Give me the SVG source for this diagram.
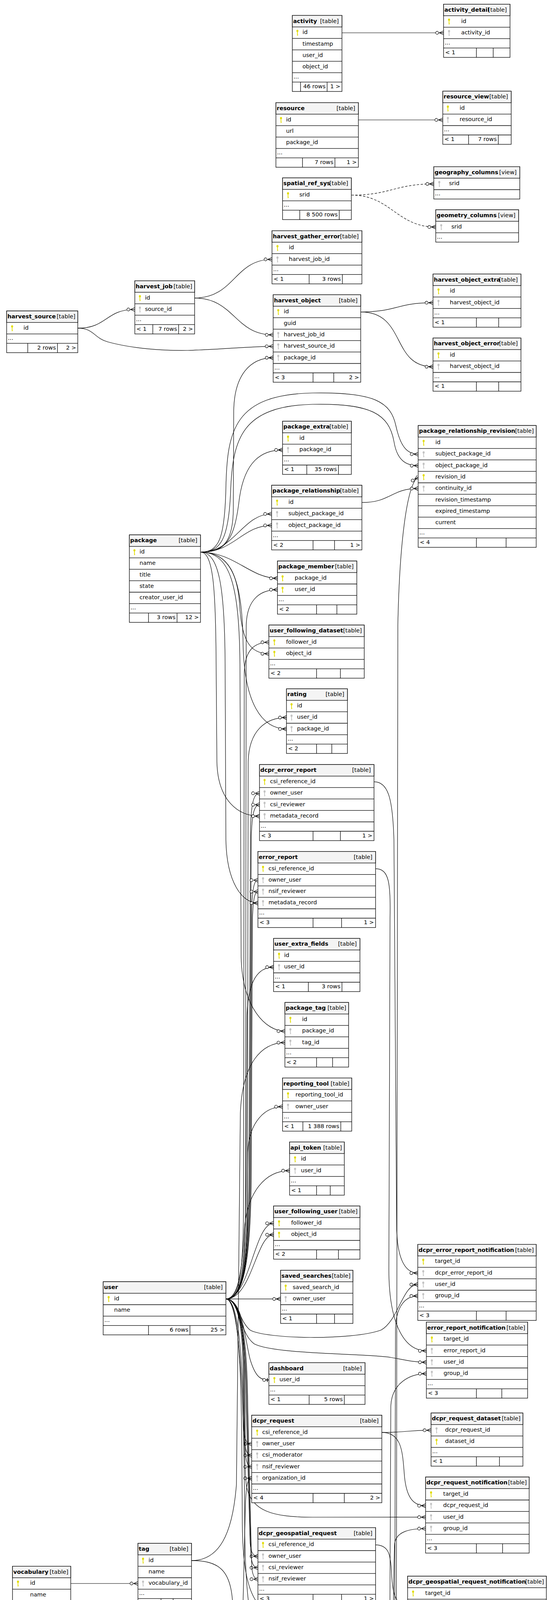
<svg xmlns="http://www.w3.org/2000/svg" width="1415" height="7236" viewBox="0 0 1415 7236">
<style>
text{font-family:"DejaVu Sans","Liberation Sans",sans-serif;font-size:14.5px;fill:#000}
.n{font-weight:bold}
.r{text-anchor:end}
.b{fill:#fff;stroke:#000;stroke-width:1.3}
.h{fill:#f4f4f4;stroke:#000;stroke-width:1.3}
.l{fill:none;stroke:#000;stroke-width:1.3}
.kp{fill:#e2dc00}
.kf{fill:#c2c2c2}
.e{fill:none;stroke:#000;stroke-width:1.2;marker-end:url(#cf)}
.d{stroke-dasharray:6 4}
.z{marker-end:url(#zo)}
</style>
<defs>
<g id="k"><ellipse cx="0" cy="-4.6" rx="2.6" ry="2.9"/><rect x="-0.9" y="-2.5" width="1.8" height="10.2"/><rect x="0.7" y="5.2" width="1.5" height="1.2"/></g>
<marker id="cf" markerUnits="userSpaceOnUse" viewBox="-26 -8 28 16" refX="0" refY="0" markerWidth="28" markerHeight="16" orient="auto">
<path d="M-11,0L0,-5M-11,0L0,5M-11,0H0" fill="none" stroke="#000" stroke-width="1.2"/>
<circle cx="-16.5" cy="0" r="3.8" fill="#fff" stroke="#000" stroke-width="1.2"/>
</marker>
<marker id="zo" markerUnits="userSpaceOnUse" viewBox="-26 -8 28 16" refX="0" refY="0" markerWidth="28" markerHeight="16" orient="auto">
<path d="M-4,-5V5M-8,0H0" fill="none" stroke="#000" stroke-width="1.8"/>
<circle cx="-12" cy="0" r="3.8" fill="#fff" stroke="#000" stroke-width="1.2"/>
</marker>
</defs>
<rect width="1415" height="7236" fill="#fff"/>
<g id="connectors">
<path class="e" d="M875,84 H1135"/>
<path class="e" d="M917,307 H1133"/>
<path class="e d" d="M899,499.5 C1000,499.5 1010,470.85 1110,470.85"/>
<path class="e d" d="M899,499.5 C1000,499.5 1015,581.15 1115,581.15"/>
<path class="e" d="M498,763 C600,763 600,664 696,664"/>
<path class="e" d="M199,840.15 C275,840 270,792.25 345,792.25"/>
<path class="e" d="M498,763 C600,763 600,857.25 699,857.25"/>
<path class="e" d="M199,840.15 C240,840 240,865 275,875 C340,893 420,898 480,897 C560,895 640,886.55 699,886.55"/>
<path class="e" d="M513,1413.5 C570,1413.5 597,1390 597,1300 L598,1050 C600,960 640,915.85 699,915.85"/>
<path class="e" d="M923,798.65 C1015,798.65 1015,774.95 1108,774.95"/>
<path class="e" d="M923,798.65 C1040,798.65 1000,938.85 1108,938.85"/>
<path class="e" d="M513,1413.5 C580,1413.5 600,1380 612,1280 C625,1180 670,1151.85 723,1151.85"/>
<path class="e" d="M513,1413.5 C600,1413.5 620,1315.75 695,1315.75"/>
<path class="e" d="M513,1413.5 C600,1413.5 620,1345.05 695,1345.05"/>
<path class="e" d="M513,1413.5 C560,1413.5 575,1380 578,1250 C581,1100 600,1010 800,1006 C960,1003 1000,1030 1013,1090 C1024,1140 1040,1162.75 1070,1162.75"/>
<path class="e" d="M513,1413.5 C565,1413.5 585,1380 590,1260 C595,1120 620,1040 800,1035 C950,1032 995,1060 1008,1130 C1016,1180 1040,1192.05 1070,1192.05"/>
<path class="e" d="M520,5905.15 C600,5905 588,5800 588,5650 C588,5520 630,5470 720,5468 C900,5465 975,5470 990,5440 C1005,5400 1012,5300 1013,5000 L1018,1600 C1022,1400 1040,1240 1070,1221.35"/>
<path class="e" d="M926,1286.45 C1000,1286.45 1000,1250.65 1070,1250.65"/>
<path class="e" d="M513,1413.5 C600,1413.5 640,1480.35 710,1480.35"/>
<path class="e" d="M578,3325.35 C620,3325 628,3250 628,3100 L630,1600 C632,1530 670,1509.65 710,1509.65"/>
<path class="e" d="M578,3325.35 C615,3325 622,3250 623,3100 L625,1720 C627,1665 650,1644.25 688,1644.25"/>
<path class="e" d="M513,1413.5 C590,1413.5 610,1480 614,1560 C620,1640 640,1673.55 688,1673.55"/>
<path class="e" d="M578,3325.35 C620,3325 633,3250 633,3100 L635,1950 C637,1870 680,1836.85 733,1836.85"/>
<path class="e" d="M513,1413.5 C600,1413.5 620,1500 622,1650 C625,1800 670,1866.15 733,1866.15"/>
<path class="e" d="M578,3325.35 C620,3325 636,3250 637,3000 L641,2120 C643,2060 648,2030.75 664,2030.75"/>
<path class="e" d="M578,3325.35 C620,3325 638,3250 639,3000 L643,2140 C645,2085 650,2060.05 664,2060.05"/>
<path class="e" d="M513,1413.5 C545,1413.5 552,1500 553,1700 L555,1950 C557,2050 610,2089.35 664,2089.35"/>
<path class="e" d="M578,3325.35 C620,3325 640,3250 641,3000 L644,2330 C646,2275 650,2253.25 660,2253.25"/>
<path class="e" d="M578,3325.35 C620,3325 642,3250 643,3000 L646,2350 C648,2300 652,2282.55 660,2282.55"/>
<path class="e" d="M513,1413.5 C560,1413.5 575,1500 576,1700 L578,2150 C580,2260 620,2311.85 660,2311.85"/>
<path class="e" d="M578,3325.35 C620,3325 628,3250 630,3000 L632,2600 C635,2510 660,2475.85 700,2475.85"/>
<path class="e" d="M513,1413.5 C590,1413.5 612,1500 614,1700 L617,2450 C620,2580 680,2639.75 729,2639.75"/>
<path class="e" d="M490,3995.05 C560,3995 595,3930 605,3800 L615,2850 C620,2720 670,2669.05 729,2669.05"/>
<path class="e" d="M578,3325.35 C620,3325 630,3250 632,3100 L634,2950 C637,2870 680,2833.05 723,2833.05"/>
<path class="e" d="M578,3325.35 C610,3325 620,3250 625,3150 C632,3050 680,2996.95 741,2996.95"/>
<path class="e" d="M578,3325.35 C640,3325 650,3131.55 700,3131.55"/>
<path class="e" d="M578,3325.35 C645,3325 655,3160.85 700,3160.85"/>
<path class="e" d="M578,3325.35 H718"/>
<path class="e" d="M957,2001.45 C995,2001 1005,2050 1008,2150 L1015,3150 C1018,3230 1040,3259.05 1069,3259.05"/>
<path class="e" d="M578,3325.35 C610,3325 610,3380 640,3405 C680,3428 900,3432 975,3405 C1020,3380 1030,3288.35 1069,3288.35"/>
<path class="e" d="M498,4749.55 C560,4749.55 572,4800 575,4900 C580,5050 600,5120 660,5130 C760,5143 900,5148 970,5135 C998,5125 1005,5080 1008,5000 L1012,3400 C1014,3340 1040,3317.65 1069,3317.65"/>
<path class="e" d="M961,2223.95 C995,2224 1000,2260 998,2350 L995,3250 C995,3380 1030,3458.05 1091,3458.05"/>
<path class="e" d="M578,3325.35 C615,3325 610,3410 650,3440 C700,3468 950,3465 1000,3475 C1040,3482 1060,3487.35 1091,3487.35"/>
<path class="e" d="M498,4749.55 C600,4749.55 700,4765 820,4766 C950,4768 985,4755 995,4720 L1000,3600 C1002,3540 1050,3516.65 1091,3516.65"/>
<path class="e z" d="M578,3325.35 C620,3325 625,3420 640,3480 C655,3530 670,3532.65 688,3532.65"/>
<path class="e" d="M578,3325.35 C610,3325 620,3400 622,3500 L624,3660 C626,3690 632,3696.45 644,3696.45"/>
<path class="e" d="M578,3325.35 C612,3325 622,3400 624,3500 L626,3690 C628,3718 634,3725.75 644,3725.75"/>
<path class="e" d="M578,3325.35 C614,3325 624,3400 626,3500 L628,3720 C630,3748 636,3755.05 644,3755.05"/>
<path class="e" d="M498,4749.55 C560,4749.55 600,4700 610,4600 L628,3850 C630,3800 634,3784.35 644,3784.35"/>
<path class="e" d="M977,3667.15 C1040,3667 1040,3661.45 1103,3661.45"/>
<path class="e" d="M977,3667.15 C1030,3667 1030,3720 1035,3780 C1040,3830 1055,3854.65 1089,3854.65"/>
<path class="e" d="M578,3325.35 C630,3325 620,3700 630,3800 C640,3870 700,3884 800,3884 L1089,3883.95"/>
<path class="e" d="M498,4749.55 C620,4749.55 700,4732 800,4730 C930,4728 985,4725 995,4690 C1005,4600 1005,4000 1010,3950 C1015,3920 1050,3913.25 1089,3913.25"/>
<path class="e" d="M578,3325.35 C610,3325 628,3400 630,3600 L640,3950 C642,3975 648,3984.15 660,3984.15"/>
<path class="e" d="M578,3325.35 C612,3325 630,3400 632,3600 L642,3980 C644,4005 650,4013.45 660,4013.45"/>
<path class="e" d="M578,3325.35 C614,3325 632,3400 634,3600 L644,4010 C646,4035 652,4042.75 660,4042.75"/>
<path class="e" d="M181,4053.75 H353"/>
<path class="e" d="M961,3954.85 C995,3955 1000,3980 1002,4030 C1005,4090 1015,4108.45 1043,4108.45"/>
<path class="e" d="M578,3325.35 C620,3325 618,3600 620,3900 C622,4080 650,4150 776,4152 C900,4155 980,4137.75 1043,4137.75"/>
<path class="e" d="M498,4749.55 C560,4749.55 575,4600 590,4450 C605,4350 640,4340 720,4338 C900,4335 980,4345 995,4300 C1005,4250 1012,4167.05 1043,4167.05"/>
<path class="e" d="M578,3325.35 C615,3325 625,3600 626,3900 C628,4150 650,4213.15 693,4213.15"/>
<path class="e" d="M498,4749.55 C570,4749.55 590,4650 595,4500 C600,4300 640,4242.45 693,4242.45"/>
<path class="e" d="M520,5905.15 C600,5905 605,5800 607,5600 L612,4600 C615,4480 650,4442.75 695,4442.75"/>
<path class="e" d="M490,3995.05 C560,3995 590,4020 595,4100 L592,4380 C595,4470 640,4501.35 695,4501.35"/>
<path class="e" d="M498,4749.55 C620,4749.55 680,4854.65 747,4854.65"/>
<path class="e" d="M498,4749.55 C600,4749.55 640,4900 660,4960 C680,5020 700,5047.95 732,5047.95"/>
<path class="e" d="M498,4749.55 C560,4749.55 575,4850 578,5000 C582,5180 640,5248.15 696,5248.15"/>
<path class="e" d="M520,5905.15 C580,5905 585,5700 585,5500 C585,5330 640,5277.45 696,5277.45"/>
<path class="e" d="M520,5905.15 C600,5905 615,5780 620,5680 C628,5590 660,5565.15 705,5565.15"/>
<path class="e" d="M520,5905.15 H711"/>
<path class="e" d="M520,5905.15 C580,5905 600,5980 605,6050 C612,6150 640,6186.15 687,6186.15"/>
<path class="e" d="M520,5905.15 C590,5905 605,6050 612,6250 C618,6420 650,6526.05 712,6526.05"/>
<path class="e" d="M520,5905.15 C590,5905 608,6100 612,6400 C615,6700 650,6808.15 719,6808.15"/>
<path class="e" d="M520,5905.15 C580,5905 592,6100 593,6400 L595,6900 C597,7010 640,7059.55 697,7059.55"/>
<path class="e" d="M500,7089.35 H697"/>
</g>

<g id="activity" transform="translate(748,39.5)">
<rect class="b" width="127" height="194.7"/><rect class="h" width="127" height="29.5"/>
<path class="l" d="M0,58.8H127M0,88.1H127M0,117.4H127M0,146.7H127M0,170.7H127M21,170.7V194.7M89,170.7V194.7"/>
<text class="n" x="2" y="19">activity</text><text class="r" x="119" y="19">[table]</text>
<use href="#k" class="kp" x="13" y="44.15"/><text x="26" y="47.8">id</text>
<text x="26" y="77.1">timestamp</text><text x="26" y="106.4">user_id</text><text x="26" y="135.7">object_id</text>
<text x="3" y="161.7">...</text><text class="r" x="85" y="186.7">46 rows</text><text class="r" x="123" y="186.7">1 &gt;</text>
</g>

<g id="activity_detail" transform="translate(1135,10.8)">
<rect class="b" width="170" height="136.1"/><rect class="h" width="170" height="29.5"/>
<path class="l" d="M0,58.8H170M0,88.1H170M0,112.1H170M84,112.1V136.1M127,112.1V136.1"/>
<text class="n" x="2" y="19">activity_detail</text><text class="r" x="162" y="19">[table]</text>
<use href="#k" class="kp" x="14" y="44.15"/><text x="45" y="47.8">id</text>
<use href="#k" class="kf" x="14" y="73.45"/><text x="45" y="77.1">activity_id</text>
<text x="3" y="103.1">...</text><text x="4" y="128.1">&lt; 1</text>
</g>

<g id="resource" transform="translate(706,262.8)">
<rect class="b" width="211" height="165.4"/><rect class="h" width="211" height="29.5"/>
<path class="l" d="M0,58.8H211M0,88.1H211M0,117.4H211M0,141.4H211M68,141.4V165.4M151,141.4V165.4"/>
<text class="n" x="2" y="19">resource</text><text class="r" x="203" y="19">[table]</text>
<use href="#k" class="kp" x="13" y="44.15"/><text x="26" y="47.8">id</text>
<text x="26" y="77.1">url</text><text x="26" y="106.4">package_id</text>
<text x="3" y="132.4">...</text><text class="r" x="147" y="157.4">7 rows</text><text class="r" x="207" y="157.4">1 &gt;</text>
</g>

<g id="resource_view" transform="translate(1133,233.4)">
<rect class="b" width="175" height="136.1"/><rect class="h" width="175" height="29.5"/>
<path class="l" d="M0,58.8H175M0,88.1H175M0,112.1H175M66,112.1V136.1M142,112.1V136.1"/>
<text class="n" x="2" y="19">resource_view</text><text class="r" x="167" y="19">[table]</text>
<use href="#k" class="kp" x="13" y="44.15"/><text x="43" y="47.8">id</text>
<use href="#k" class="kf" x="13" y="73.45"/><text x="43" y="77.1">resource_id</text>
<text x="3" y="103.1">...</text><text x="4" y="128.1">&lt; 1</text><text class="r" x="138" y="128.1">7 rows</text>
</g>

<g id="spatial_ref_sys" transform="translate(723,455.4)">
<rect class="b" width="176" height="106.8"/><rect class="h" width="176" height="29.5"/>
<path class="l" d="M0,58.8H176M0,82.8H176M44,82.8V106.8M145,82.8V106.8"/>
<text class="n" x="2" y="19">spatial_ref_sys</text><text class="r" x="168" y="19">[table]</text>
<use href="#k" class="kp" x="14" y="44.15"/><text x="43" y="47.8">srid</text>
<text x="3" y="73.8">...</text><text class="r" x="141" y="98.8">8 500 rows</text>
</g>

<g id="geography_columns" transform="translate(1110,426.7)">
<rect class="b" width="220" height="82.8"/><rect class="h" width="220" height="29.5"/>
<path class="l" d="M0,58.8H220"/>
<text class="n" x="2" y="19">geography_columns</text><text class="r" x="212" y="19">[view]</text>
<use href="#k" class="kf" x="14" y="44.15"/><text x="39" y="47.8">srid</text>
<text x="3" y="73.8">...</text>
</g>

<g id="geometry_columns" transform="translate(1115,537)">
<rect class="b" width="212" height="82.8"/><rect class="h" width="212" height="29.5"/>
<path class="l" d="M0,58.8H212"/>
<text class="n" x="2" y="19">geometry_columns</text><text class="r" x="204" y="19">[view]</text>
<use href="#k" class="kf" x="14" y="44.15"/><text x="40" y="47.8">srid</text>
<text x="3" y="73.8">...</text>
</g>

<g id="harvest_gather_error" transform="translate(696,590.6)">
<rect class="b" width="230" height="136.1"/><rect class="h" width="230" height="29.5"/>
<path class="l" d="M0,58.8H230M0,88.1H230M0,112.1H230M95,112.1V136.1M180,112.1V136.1"/>
<text class="n" x="2" y="19">harvest_gather_error</text><text class="r" x="222" y="19">[table]</text>
<use href="#k" class="kp" x="14" y="44.15"/><text x="43" y="47.8">id</text>
<use href="#k" class="kf" x="14" y="73.45"/><text x="43" y="77.1">harvest_job_id</text>
<text x="3" y="103.1">...</text><text x="4" y="128.1">&lt; 1</text><text class="r" x="176" y="128.1">3 rows</text>
</g>

<g id="harvest_job" transform="translate(345,718.8)">
<rect class="b" width="153" height="136.1"/><rect class="h" width="153" height="29.5"/>
<path class="l" d="M0,58.8H153M0,88.1H153M0,112.1H153M46,112.1V136.1M112,112.1V136.1"/>
<text class="n" x="2" y="19">harvest_job</text><text class="r" x="147" y="19">[table]</text>
<use href="#k" class="kp" x="13" y="44.15"/><text x="26" y="47.8">id</text>
<use href="#k" class="kf" x="13" y="73.45"/><text x="26" y="77.1">source_id</text>
<text x="3" y="103.1">...</text><text x="4" y="128.1">&lt; 1</text><text class="r" x="108" y="128.1">7 rows</text><text class="r" x="149" y="128.1">2 &gt;</text>
</g>

<g id="harvest_source" transform="translate(17,796)">
<rect class="b" width="182" height="106.8"/><rect class="h" width="182" height="29.5"/>
<path class="l" d="M0,58.8H182M0,82.8H182M54,82.8V106.8M130,82.8V106.8"/>
<text class="n" x="2" y="19">harvest_source</text><text class="r" x="176" y="19">[table]</text>
<use href="#k" class="kp" x="14" y="44.15"/><text x="43" y="47.8">id</text>
<text x="3" y="73.8">...</text><text class="r" x="126" y="98.8">2 rows</text><text class="r" x="178" y="98.8">2 &gt;</text>
</g>

<g id="harvest_object" transform="translate(699,754.5)">
<rect class="b" width="224" height="224"/><rect class="h" width="224" height="29.5"/>
<path class="l" d="M0,58.8H224M0,88.1H224M0,117.4H224M0,146.7H224M0,176H224M0,200H224M102,200V224M155,200V224"/>
<text class="n" x="2" y="19">harvest_object</text><text class="r" x="216" y="19">[table]</text>
<use href="#k" class="kp" x="13" y="44.15"/><text x="27" y="47.8">id</text>
<text x="27" y="77.1">guid</text>
<use href="#k" class="kf" x="13" y="102.75"/><text x="27" y="106.4">harvest_job_id</text>
<use href="#k" class="kf" x="13" y="132.05"/><text x="27" y="135.7">harvest_source_id</text>
<use href="#k" class="kf" x="13" y="161.35"/><text x="27" y="165">package_id</text>
<text x="3" y="191">...</text><text x="4" y="216">&lt; 3</text><text class="r" x="220" y="216">2 &gt;</text>
</g>

<g id="harvest_object_extra" transform="translate(1108,701.5)">
<rect class="b" width="225" height="136.1"/><rect class="h" width="225" height="29.5"/>
<path class="l" d="M0,58.8H225M0,88.1H225M0,112.1H225M111,112.1V136.1M168,112.1V136.1"/>
<text class="n" x="2" y="19">harvest_object_extra</text><text class="r" x="217" y="19">[table]</text>
<use href="#k" class="kp" x="14" y="44.15"/><text x="43" y="47.8">id</text>
<use href="#k" class="kf" x="14" y="73.45"/><text x="43" y="77.1">harvest_object_id</text>
<text x="3" y="103.1">...</text><text x="4" y="128.1">&lt; 1</text>
</g>

<g id="harvest_object_error" transform="translate(1108,865.4)">
<rect class="b" width="225" height="136.1"/><rect class="h" width="225" height="29.5"/>
<path class="l" d="M0,58.8H225M0,88.1H225M0,112.1H225M111,112.1V136.1M168,112.1V136.1"/>
<text class="n" x="2" y="19">harvest_object_error</text><text class="r" x="217" y="19">[table]</text>
<use href="#k" class="kp" x="14" y="44.15"/><text x="43" y="47.8">id</text>
<use href="#k" class="kf" x="14" y="73.45"/><text x="43" y="77.1">harvest_object_id</text>
<text x="3" y="103.1">...</text><text x="4" y="128.1">&lt; 1</text>
</g>

<g id="package_extra" transform="translate(723,1078.4)">
<rect class="b" width="176" height="136.1"/><rect class="h" width="176" height="29.5"/>
<path class="l" d="M0,58.8H176M0,88.1H176M0,112.1H176M62,112.1V136.1M143,112.1V136.1"/>
<text class="n" x="2" y="19">package_extra</text><text class="r" x="168" y="19">[table]</text>
<use href="#k" class="kp" x="14" y="44.15"/><text x="43" y="47.8">id</text>
<use href="#k" class="kf" x="14" y="73.45"/><text x="43" y="77.1">package_id</text>
<text x="3" y="103.1">...</text><text x="4" y="128.1">&lt; 1</text><text class="r" x="139" y="128.1">35 rows</text>
</g>

<g id="package_relationship" transform="translate(695,1242.3)">
<rect class="b" width="231" height="165.4"/><rect class="h" width="231" height="29.5"/>
<path class="l" d="M0,58.8H231M0,88.1H231M0,117.4H231M0,141.4H231M106,141.4V165.4M161,141.4V165.4"/>
<text class="n" x="2" y="19">package_relationship</text><text class="r" x="223" y="19">[table]</text>
<use href="#k" class="kp" x="14" y="44.15"/><text x="43" y="47.8">id</text>
<use href="#k" class="kf" x="14" y="73.45"/><text x="43" y="77.1">subject_package_id</text>
<use href="#k" class="kf" x="14" y="102.75"/><text x="43" y="106.4">object_package_id</text>
<text x="3" y="132.4">...</text><text x="4" y="157.4">&lt; 2</text><text class="r" x="227" y="157.4">1 &gt;</text>
</g>

<g id="package_relationship_revision" transform="translate(1070,1089.3)">
<rect class="b" width="302" height="311.9"/><rect class="h" width="302" height="29.5"/>
<path class="l" d="M0,58.8H302M0,88.1H302M0,117.4H302M0,146.7H302M0,176H302M0,205.3H302M0,234.6H302M0,263.9H302M0,287.9H302M149,287.9V311.9M225,287.9V311.9"/>
<text class="n" x="2" y="19">package_relationship_revision</text><text class="r" x="296" y="19">[table]</text>
<use href="#k" class="kp" x="14" y="44.15"/><text x="44" y="47.8">id</text>
<use href="#k" class="kf" x="14" y="73.45"/><text x="44" y="77.1">subject_package_id</text>
<use href="#k" class="kf" x="14" y="102.75"/><text x="44" y="106.4">object_package_id</text>
<use href="#k" class="kp" x="14" y="132.05"/><text x="44" y="135.7">revision_id</text>
<use href="#k" class="kf" x="14" y="161.35"/><text x="44" y="165">continuity_id</text>
<text x="44" y="194.3">revision_timestamp</text><text x="44" y="223.6">expired_timestamp</text><text x="44" y="252.9">current</text>
<text x="3" y="278.9">...</text><text x="4" y="303.9">&lt; 4</text>
</g>

<g id="package" transform="translate(331,1369.3)">
<rect class="b" width="182" height="224"/><rect class="h" width="182" height="29.5"/>
<path class="l" d="M0,58.8H182M0,88.1H182M0,117.4H182M0,146.7H182M0,176H182M0,200H182M49,200V224M122,200V224"/>
<text class="n" x="2" y="19">package</text><text class="r" x="174" y="19">[table]</text>
<use href="#k" class="kp" x="13" y="44.15"/><text x="26" y="47.8">id</text>
<text x="26" y="77.1">name</text><text x="26" y="106.4">title</text><text x="26" y="135.7">state</text><text x="26" y="165">creator_user_id</text>
<text x="3" y="191">...</text><text class="r" x="118" y="216">3 rows</text><text class="r" x="178" y="216">12 &gt;</text>
</g>

<g id="package_member" transform="translate(710,1436.2)">
<rect class="b" width="203" height="136.1"/><rect class="h" width="203" height="29.5"/>
<path class="l" d="M0,58.8H203M0,88.1H203M0,112.1H203M100,112.1V136.1M152,112.1V136.1"/>
<text class="n" x="2" y="19">package_member</text><text class="r" x="195" y="19">[table]</text>
<use href="#k" class="kp" x="13" y="44.15"/><text x="44" y="47.8">package_id</text>
<use href="#k" class="kp" x="13" y="73.45"/><text x="44" y="77.1">user_id</text>
<text x="3" y="103.1">...</text><text x="4" y="128.1">&lt; 2</text>
</g>

<g id="user_following_dataset" transform="translate(688,1600.1)">
<rect class="b" width="244" height="136.1"/><rect class="h" width="244" height="29.5"/>
<path class="l" d="M0,58.8H244M0,88.1H244M0,112.1H244M122,112.1V136.1M183,112.1V136.1"/>
<text class="n" x="2" y="19">user_following_dataset</text><text class="r" x="238" y="19">[table]</text>
<use href="#k" class="kp" x="14" y="44.15"/><text x="44" y="47.8">follower_id</text>
<use href="#k" class="kp" x="14" y="73.45"/><text x="44" y="77.1">object_id</text>
<text x="3" y="103.1">...</text><text x="4" y="128.1">&lt; 2</text>
</g>

<g id="rating" transform="translate(733,1763.4)">
<rect class="b" width="156" height="165.4"/><rect class="h" width="156" height="29.5"/>
<path class="l" d="M0,58.8H156M0,88.1H156M0,117.4H156M0,141.4H156M77,141.4V165.4M116,141.4V165.4"/>
<text class="n" x="2" y="19">rating</text><text class="r" x="148" y="19">[table]</text>
<use href="#k" class="kp" x="13" y="44.15"/><text x="27" y="47.8">id</text>
<use href="#k" class="kf" x="13" y="73.45"/><text x="27" y="77.1">user_id</text>
<use href="#k" class="kf" x="13" y="102.75"/><text x="27" y="106.4">package_id</text>
<text x="3" y="132.4">...</text><text x="4" y="157.4">&lt; 2</text>
</g>

<g id="dcpr_error_report" transform="translate(664,1957.3)">
<rect class="b" width="293" height="194.7"/><rect class="h" width="293" height="29.5"/>
<path class="l" d="M0,58.8H293M0,88.1H293M0,117.4H293M0,146.7H293M0,170.7H293M137,170.7V194.7M207,170.7V194.7"/>
<text class="n" x="2" y="19">dcpr_error_report</text><text class="r" x="285" y="19">[table]</text>
<use href="#k" class="kp" x="13" y="44.15"/><text x="27" y="47.8">csi_reference_id</text>
<use href="#k" class="kf" x="13" y="73.45"/><text x="27" y="77.1">owner_user</text>
<use href="#k" class="kf" x="13" y="102.75"/><text x="27" y="106.4">csi_reviewer</text>
<use href="#k" class="kf" x="13" y="132.05"/><text x="27" y="135.7">metadata_record</text>
<text x="3" y="161.7">...</text><text x="4" y="186.7">&lt; 3</text><text class="r" x="289" y="186.7">1 &gt;</text>
</g>

<g id="error_report" transform="translate(660,2179.8)">
<rect class="b" width="301" height="194.7"/><rect class="h" width="301" height="29.5"/>
<path class="l" d="M0,58.8H301M0,88.1H301M0,117.4H301M0,146.7H301M0,170.7H301M141,170.7V194.7M214,170.7V194.7"/>
<text class="n" x="2" y="19">error_report</text><text class="r" x="293" y="19">[table]</text>
<use href="#k" class="kp" x="13" y="44.15"/><text x="27" y="47.8">csi_reference_id</text>
<use href="#k" class="kf" x="13" y="73.45"/><text x="27" y="77.1">owner_user</text>
<use href="#k" class="kf" x="13" y="102.75"/><text x="27" y="106.4">nsif_reviewer</text>
<use href="#k" class="kf" x="13" y="132.05"/><text x="27" y="135.7">metadata_record</text>
<text x="3" y="161.7">...</text><text x="4" y="186.7">&lt; 3</text><text class="r" x="297" y="186.7">1 &gt;</text>
</g>

<g id="user_extra_fields" transform="translate(700,2402.4)">
<rect class="b" width="221" height="136.1"/><rect class="h" width="221" height="29.5"/>
<path class="l" d="M0,58.8H221M0,88.1H221M0,112.1H221M89,112.1V136.1M175,112.1V136.1"/>
<text class="n" x="2" y="19">user_extra_fields</text><text class="r" x="213" y="19">[table]</text>
<use href="#k" class="kp" x="14" y="44.15"/><text x="27" y="47.8">id</text>
<use href="#k" class="kf" x="14" y="73.45"/><text x="27" y="77.1">user_id</text>
<text x="3" y="103.1">...</text><text x="4" y="128.1">&lt; 1</text><text class="r" x="171" y="128.1">3 rows</text>
</g>

<g id="package_tag" transform="translate(729,2566.3)">
<rect class="b" width="163" height="165.4"/><rect class="h" width="163" height="29.5"/>
<path class="l" d="M0,58.8H163M0,88.1H163M0,117.4H163M0,141.4H163M81,141.4V165.4M122,141.4V165.4"/>
<text class="n" x="2" y="19">package_tag</text><text class="r" x="157" y="19">[table]</text>
<use href="#k" class="kp" x="14" y="44.15"/><text x="44" y="47.8">id</text>
<use href="#k" class="kf" x="14" y="73.45"/><text x="44" y="77.1">package_id</text>
<use href="#k" class="kf" x="14" y="102.75"/><text x="44" y="106.4">tag_id</text>
<text x="3" y="132.4">...</text><text x="4" y="157.4">&lt; 2</text>
</g>

<g id="reporting_tool" transform="translate(723,2759.6)">
<rect class="b" width="177" height="136.1"/><rect class="h" width="177" height="29.5"/>
<path class="l" d="M0,58.8H177M0,88.1H177M0,112.1H177M52,112.1V136.1M149,112.1V136.1"/>
<text class="n" x="2" y="19">reporting_tool</text><text class="r" x="171" y="19">[table]</text>
<use href="#k" class="kp" x="14" y="44.15"/><text x="33" y="47.8">reporting_tool_id</text>
<use href="#k" class="kf" x="14" y="73.45"/><text x="33" y="77.1">owner_user</text>
<text x="3" y="103.1">...</text><text x="4" y="128.1">&lt; 1</text><text class="r" x="145" y="128.1">1 388 rows</text>
</g>

<g id="api_token" transform="translate(741,2923.5)">
<rect class="b" width="140" height="136.1"/><rect class="h" width="140" height="29.5"/>
<path class="l" d="M0,58.8H140M0,88.1H140M0,112.1H140M69,112.1V136.1M104,112.1V136.1"/>
<text class="n" x="2" y="19">api_token</text><text class="r" x="134" y="19">[table]</text>
<use href="#k" class="kp" x="14" y="44.15"/><text x="29" y="47.8">id</text>
<use href="#k" class="kf" x="14" y="73.45"/><text x="29" y="77.1">user_id</text>
<text x="3" y="103.1">...</text><text x="4" y="128.1">&lt; 1</text>
</g>

<g id="user_following_user" transform="translate(700,3087.4)">
<rect class="b" width="221" height="136.1"/><rect class="h" width="221" height="29.5"/>
<path class="l" d="M0,58.8H221M0,88.1H221M0,112.1H221M110,112.1V136.1M166,112.1V136.1"/>
<text class="n" x="2" y="19">user_following_user</text><text class="r" x="215" y="19">[table]</text>
<use href="#k" class="kp" x="14" y="44.15"/><text x="45" y="47.8">follower_id</text>
<use href="#k" class="kp" x="14" y="73.45"/><text x="45" y="77.1">object_id</text>
<text x="3" y="103.1">...</text><text x="4" y="128.1">&lt; 2</text>
</g>

<g id="saved_searches" transform="translate(718,3251.9)">
<rect class="b" width="185" height="136.1"/><rect class="h" width="185" height="29.5"/>
<path class="l" d="M0,58.8H185M0,88.1H185M0,112.1H185M92,112.1V136.1M138,112.1V136.1"/>
<text class="n" x="2" y="19">saved_searches</text><text class="r" x="179" y="19">[table]</text>
<use href="#k" class="kp" x="13" y="44.15"/><text x="31" y="47.8">saved_search_id</text>
<use href="#k" class="kf" x="13" y="73.45"/><text x="31" y="77.1">owner_user</text>
<text x="3" y="103.1">...</text><text x="4" y="128.1">&lt; 1</text>
</g>

<g id="user" transform="translate(264,3281.2)">
<rect class="b" width="314" height="136.1"/><rect class="h" width="314" height="29.5"/>
<path class="l" d="M0,58.8H314M0,88.1H314M0,112.1H314M116,112.1V136.1M222,112.1V136.1"/>
<text class="n" x="2" y="19">user</text><text class="r" x="306" y="19">[table]</text>
<use href="#k" class="kp" x="14" y="44.15"/><text x="28" y="47.8">id</text>
<text x="28" y="77.1">name</text>
<text x="3" y="103.1">...</text><text class="r" x="218" y="128.1">6 rows</text><text class="r" x="310" y="128.1">25 &gt;</text>
</g>

<g id="dcpr_error_report_notification" transform="translate(1069,3185.6)">
<rect class="b" width="303" height="194.7"/><rect class="h" width="303" height="29.5"/>
<path class="l" d="M0,58.8H303M0,88.1H303M0,117.4H303M0,146.7H303M0,170.7H303M150,170.7V194.7M226,170.7V194.7"/>
<text class="n" x="2" y="19">dcpr_error_report_notification</text><text class="r" x="297" y="19">[table]</text>
<use href="#k" class="kp" x="14" y="44.15"/><text x="44" y="47.8">target_id</text>
<use href="#k" class="kf" x="14" y="73.45"/><text x="44" y="77.1">dcpr_error_report_id</text>
<use href="#k" class="kf" x="14" y="102.75"/><text x="44" y="106.4">user_id</text>
<use href="#k" class="kf" x="14" y="132.05"/><text x="44" y="135.7">group_id</text>
<text x="3" y="161.7">...</text><text x="4" y="186.7">&lt; 3</text>
</g>

<g id="error_report_notification" transform="translate(1091,3384.6)">
<rect class="b" width="259" height="194.7"/><rect class="h" width="259" height="29.5"/>
<path class="l" d="M0,58.8H259M0,88.1H259M0,117.4H259M0,146.7H259M0,170.7H259M128,170.7V194.7M193,170.7V194.7"/>
<text class="n" x="2" y="19">error_report_notification</text><text class="r" x="253" y="19">[table]</text>
<use href="#k" class="kp" x="14" y="44.15"/><text x="44" y="47.8">target_id</text>
<use href="#k" class="kf" x="14" y="73.45"/><text x="44" y="77.1">error_report_id</text>
<use href="#k" class="kf" x="14" y="102.75"/><text x="44" y="106.4">user_id</text>
<use href="#k" class="kf" x="14" y="132.05"/><text x="44" y="135.7">group_id</text>
<text x="3" y="161.7">...</text><text x="4" y="186.7">&lt; 3</text>
</g>

<g id="dashboard" transform="translate(688,3488.5)">
<rect class="b" width="246" height="106.8"/><rect class="h" width="246" height="29.5"/>
<path class="l" d="M0,58.8H246M0,82.8H246M103,82.8V106.8M193,82.8V106.8"/>
<text class="n" x="2" y="19">dashboard</text><text class="r" x="238" y="19">[table]</text>
<use href="#k" class="kp" x="14" y="44.15"/><text x="27" y="47.8">user_id</text>
<text x="3" y="73.8">...</text><text x="4" y="98.8">&lt; 1</text><text class="r" x="189" y="98.8">5 rows</text>
</g>

<g id="dcpr_request" transform="translate(644,3623)">
<rect class="b" width="333" height="224"/><rect class="h" width="333" height="29.5"/>
<path class="l" d="M0,58.8H333M0,88.1H333M0,117.4H333M0,146.7H333M0,176H333M0,200H333M157,200V224M237,200V224"/>
<text class="n" x="2" y="19">dcpr_request</text><text class="r" x="325" y="19">[table]</text>
<use href="#k" class="kp" x="14" y="44.15"/><text x="27" y="47.8">csi_reference_id</text>
<use href="#k" class="kf" x="14" y="73.45"/><text x="27" y="77.1">owner_user</text>
<use href="#k" class="kf" x="14" y="102.75"/><text x="27" y="106.4">csi_moderator</text>
<use href="#k" class="kf" x="14" y="132.05"/><text x="27" y="135.7">nsif_reviewer</text>
<use href="#k" class="kf" x="14" y="161.35"/><text x="27" y="165">organization_id</text>
<text x="3" y="191">...</text><text x="4" y="216">&lt; 4</text><text class="r" x="329" y="216">2 &gt;</text>
</g>

<g id="dcpr_request_dataset" transform="translate(1103,3617.3)">
<rect class="b" width="235" height="136.1"/><rect class="h" width="235" height="29.5"/>
<path class="l" d="M0,58.8H235M0,88.1H235M0,112.1H235M116,112.1V136.1M175,112.1V136.1"/>
<text class="n" x="2" y="19">dcpr_request_dataset</text><text class="r" x="229" y="19">[table]</text>
<use href="#k" class="kf" x="14" y="44.15"/><text x="36" y="47.8">dcpr_request_id</text>
<use href="#k" class="kp" x="14" y="73.45"/><text x="36" y="77.1">dataset_id</text>
<text x="3" y="103.1">...</text><text x="4" y="128.1">&lt; 1</text>
</g>

<g id="dcpr_request_notification" transform="translate(1089,3781.2)">
<rect class="b" width="265" height="194.7"/><rect class="h" width="265" height="29.5"/>
<path class="l" d="M0,58.8H265M0,88.1H265M0,117.4H265M0,146.7H265M0,170.7H265M130,170.7V194.7M197,170.7V194.7"/>
<text class="n" x="2" y="19">dcpr_request_notification</text><text class="r" x="259" y="19">[table]</text>
<use href="#k" class="kp" x="14" y="44.15"/><text x="45" y="47.8">target_id</text>
<use href="#k" class="kf" x="14" y="73.45"/><text x="45" y="77.1">dcpr_request_id</text>
<use href="#k" class="kf" x="14" y="102.75"/><text x="45" y="106.4">user_id</text>
<use href="#k" class="kf" x="14" y="132.05"/><text x="45" y="135.7">group_id</text>
<text x="3" y="161.7">...</text><text x="4" y="186.7">&lt; 3</text>
</g>

<g id="dcpr_geospatial_request" transform="translate(660,3910.7)">
<rect class="b" width="301" height="194.7"/><rect class="h" width="301" height="29.5"/>
<path class="l" d="M0,58.8H301M0,88.1H301M0,117.4H301M0,146.7H301M0,170.7H301M141,170.7V194.7M214,170.7V194.7"/>
<text class="n" x="2" y="19">dcpr_geospatial_request</text><text class="r" x="293" y="19">[table]</text>
<use href="#k" class="kp" x="13" y="44.15"/><text x="27" y="47.8">csi_reference_id</text>
<use href="#k" class="kf" x="13" y="73.45"/><text x="27" y="77.1">owner_user</text>
<use href="#k" class="kf" x="13" y="102.75"/><text x="27" y="106.4">csi_reviewer</text>
<use href="#k" class="kf" x="13" y="132.05"/><text x="27" y="135.7">nsif_reviewer</text>
<text x="3" y="161.7">...</text><text x="4" y="186.7">&lt; 3</text><text class="r" x="297" y="186.7">1 &gt;</text>
</g>

<g id="tag" transform="translate(353,3950.9)">
<rect class="b" width="137" height="165.4"/><rect class="h" width="137" height="29.5"/>
<path class="l" d="M0,58.8H137M0,88.1H137M0,117.4H137M0,141.4H137M59,141.4V165.4M90,141.4V165.4"/>
<text class="n" x="2" y="19">tag</text><text class="r" x="129" y="19">[table]</text>
<use href="#k" class="kp" x="13" y="44.15"/><text x="27" y="47.8">id</text>
<text x="27" y="77.1">name</text>
<use href="#k" class="kf" x="13" y="102.75"/><text x="27" y="106.4">vocabulary_id</text>
<text x="3" y="132.4">...</text><text x="4" y="157.4">&lt; 1</text><text class="r" x="133" y="157.4">2 &gt;</text>
</g>

<g id="vocabulary" transform="translate(32,4009.6)">
<rect class="b" width="149" height="136.1"/><rect class="h" width="149" height="29.5"/>
<path class="l" d="M0,58.8H149M0,88.1H149M0,112.1H149M58,112.1V136.1M95,112.1V136.1"/>
<text class="n" x="2" y="19">vocabulary</text><text class="r" x="143" y="19">[table]</text>
<use href="#k" class="kp" x="14" y="44.15"/><text x="45" y="47.8">id</text>
<text x="45" y="77.1">name</text>
<text x="3" y="103.1">...</text><text class="r" x="145" y="128.1">1 &gt;</text>
</g>

<g id="dcpr_geospatial_request_notification" transform="translate(1043,4035)">
<rect class="b" width="355" height="194.7"/><rect class="h" width="355" height="29.5"/>
<path class="l" d="M0,58.8H355M0,88.1H355M0,117.4H355M0,146.7H355M0,170.7H355M176,170.7V194.7M266,170.7V194.7"/>
<text class="n" x="2" y="19">dcpr_geospatial_request_notification</text><text class="r" x="349" y="19">[table]</text>
<use href="#k" class="kp" x="14" y="44.15"/><text x="45" y="47.8">target_id</text>
<use href="#k" class="kf" x="14" y="73.45"/><text x="45" y="77.1">dcpr_geospatial_request_id</text>
<use href="#k" class="kf" x="14" y="102.75"/><text x="45" y="106.4">user_id</text>
<use href="#k" class="kf" x="14" y="132.05"/><text x="45" y="135.7">group_id</text>
<text x="3" y="161.7">...</text><text x="4" y="186.7">&lt; 3</text>
</g>

<g id="user_following_group" transform="translate(693,4169)">
<rect class="b" width="234" height="136.1"/><rect class="h" width="234" height="29.5"/>
<path class="l" d="M0,58.8H234M0,88.1H234M0,112.1H234M117,112.1V136.1M175,112.1V136.1"/>
<text class="n" x="2" y="19">user_following_group</text><text class="r" x="228" y="19">[table]</text>
<use href="#k" class="kp" x="14" y="44.15"/><text x="44" y="47.8">follower_id</text>
<use href="#k" class="kp" x="14" y="73.45"/><text x="44" y="77.1">object_id</text>
<text x="3" y="103.1">...</text><text x="4" y="128.1">&lt; 2</text>
</g>

<g id="package_tag_revision" transform="translate(695,4369.3)">
<rect class="b" width="232" height="311.9"/><rect class="h" width="232" height="29.5"/>
<path class="l" d="M0,58.8H232M0,88.1H232M0,117.4H232M0,146.7H232M0,176H232M0,205.3H232M0,234.6H232M0,263.9H232M0,287.9H232M115,287.9V311.9M173,287.9V311.9"/>
<text class="n" x="2" y="19">package_tag_revision</text><text class="r" x="226" y="19">[table]</text>
<use href="#k" class="kp" x="14" y="44.15"/><text x="44" y="47.8">id</text>
<use href="#k" class="kp" x="14" y="73.45"/><text x="44" y="77.1">revision_id</text>
<text x="44" y="106.4">package_id</text>
<use href="#k" class="kf" x="14" y="132.05"/><text x="44" y="135.7">tag_id</text>
<text x="44" y="165">continuity_id</text><text x="44" y="194.3">revision_timestamp</text><text x="44" y="223.6">expired_timestamp</text><text x="44" y="252.9">current</text>
<text x="3" y="278.9">...</text><text x="4" y="303.9">&lt; 2</text>
</g>

<g id="group" transform="translate(345,4705.4)">
<rect class="b" width="153" height="136.1"/><rect class="h" width="153" height="29.5"/>
<path class="l" d="M0,58.8H153M0,88.1H153M0,112.1H153M41,112.1V136.1M109,112.1V136.1"/>
<text class="n" x="2" y="19">group</text><text class="r" x="145" y="19">[table]</text>
<use href="#k" class="kp" x="14" y="44.15"/><text x="27" y="47.8">id</text>
<text x="27" y="77.1">name</text>
<text x="3" y="103.1">...</text><text class="r" x="105" y="128.1">2 rows</text><text class="r" x="149" y="128.1">9 &gt;</text>
</g>

<g id="member" transform="translate(747,4781.2)">
<rect class="b" width="128" height="165.4"/><rect class="h" width="128" height="29.5"/>
<path class="l" d="M0,58.8H128M0,88.1H128M0,117.4H128M0,141.4H128M38,141.4V165.4M107,141.4V165.4"/>
<text class="n" x="2" y="19">member</text><text class="r" x="122" y="19">[table]</text>
<use href="#k" class="kp" x="14" y="44.15"/><text x="32" y="47.8">id</text>
<use href="#k" class="kf" x="14" y="73.45"/><text x="32" y="77.1">group_id</text>
<text x="32" y="106.4">table_id</text>
<text x="3" y="132.4">...</text><text x="4" y="157.4">&lt; 1</text><text class="r" x="103" y="157.4">10 rows</text>
</g>

<g id="group_extra" transform="translate(732,4974.5)">
<rect class="b" width="158" height="136.1"/><rect class="h" width="158" height="29.5"/>
<path class="l" d="M0,58.8H158M0,88.1H158M0,112.1H158M78,112.1V136.1M117,112.1V136.1"/>
<text class="n" x="2" y="19">group_extra</text><text class="r" x="152" y="19">[table]</text>
<use href="#k" class="kp" x="14" y="44.15"/><text x="44" y="47.8">id</text>
<use href="#k" class="kf" x="14" y="73.45"/><text x="44" y="77.1">group_id</text>
<text x="3" y="103.1">...</text><text x="4" y="128.1">&lt; 1</text>
</g>

<g id="group_extra_revision" transform="translate(696,5174.7)">
<rect class="b" width="230" height="253.3"/><rect class="h" width="230" height="29.5"/>
<path class="l" d="M0,58.8H230M0,88.1H230M0,117.4H230M0,146.7H230M0,176H230M0,205.3H230M0,229.3H230M114,229.3V253.3M172,229.3V253.3"/>
<text class="n" x="2" y="19">group_extra_revision</text><text class="r" x="224" y="19">[table]</text>
<use href="#k" class="kp" x="14" y="44.15"/><text x="44" y="47.8">id</text>
<use href="#k" class="kf" x="14" y="73.45"/><text x="44" y="77.1">group_id</text>
<use href="#k" class="kp" x="14" y="102.75"/><text x="44" y="106.4">revision_id</text>
<text x="44" y="135.7">revision_timestamp</text><text x="44" y="165">expired_timestamp</text><text x="44" y="194.3">current</text>
<text x="3" y="220.3">...</text><text x="4" y="245.3">&lt; 2</text>
</g>

<g id="resource_revision" transform="translate(705,5491.7)">
<rect class="b" width="212" height="253.3"/><rect class="h" width="212" height="29.5"/>
<path class="l" d="M0,58.8H212M0,88.1H212M0,117.4H212M0,146.7H212M0,176H212M0,205.3H212M0,229.3H212M105,229.3V253.3M158,229.3V253.3"/>
<text class="n" x="2" y="19">resource_revision</text><text class="r" x="204" y="19">[table]</text>
<use href="#k" class="kp" x="14" y="44.15"/><text x="27" y="47.8">id</text>
<use href="#k" class="kp" x="14" y="73.45"/><text x="27" y="77.1">revision_id</text>
<text x="27" y="106.4">continuity_id</text><text x="27" y="135.7">revision_timestamp</text><text x="27" y="165">expired_timestamp</text><text x="27" y="194.3">current</text>
<text x="3" y="220.3">...</text><text x="4" y="245.3">&lt; 1</text>
</g>

<g id="member_revision" transform="translate(711,5773)">
<rect class="b" width="200" height="311.9"/><rect class="h" width="200" height="29.5"/>
<path class="l" d="M0,58.8H200M0,88.1H200M0,117.4H200M0,146.7H200M0,176H200M0,205.3H200M0,234.6H200M0,263.9H200M0,287.9H200M99,287.9V311.9M149,287.9V311.9"/>
<text class="n" x="2" y="19">member_revision</text><text class="r" x="194" y="19">[table]</text>
<use href="#k" class="kp" x="14" y="44.15"/><text x="34" y="47.8">id</text>
<text x="34" y="77.1">table_id</text><text x="34" y="106.4">group_id</text>
<use href="#k" class="kp" x="14" y="132.05"/><text x="34" y="135.7">revision_id</text>
<text x="34" y="165">continuity_id</text><text x="34" y="194.3">revision_timestamp</text><text x="34" y="223.6">expired_timestamp</text><text x="34" y="252.9">current</text>
<text x="3" y="278.9">...</text><text x="4" y="303.9">&lt; 1</text>
</g>

<g id="revision" transform="translate(324,5861)">
<rect class="b" width="196" height="165.4"/><rect class="h" width="196" height="29.5"/>
<path class="l" d="M0,58.8H196M0,88.1H196M0,117.4H196M0,141.4H196M80,141.4V165.4M129,141.4V165.4"/>
<text class="n" x="2" y="19">revision</text><text class="r" x="188" y="19">[table]</text>
<use href="#k" class="kp" x="13" y="44.15"/><text x="27" y="47.8">id</text>
<text x="27" y="77.1">author</text><text x="27" y="106.4">state</text>
<text x="3" y="132.4">...</text><text class="r" x="192" y="157.4">9 &gt;</text>
</g>

<g id="package_extra_revision" transform="translate(687,6112.7)">
<rect class="b" width="247" height="282.6"/><rect class="h" width="247" height="29.5"/>
<path class="l" d="M0,58.8H247M0,88.1H247M0,117.4H247M0,146.7H247M0,176H247M0,205.3H247M0,234.6H247M0,258.6H247M123,258.6V282.6M185,258.6V282.6"/>
<text class="n" x="2" y="19">package_extra_revision</text><text class="r" x="241" y="19">[table]</text>
<use href="#k" class="kp" x="13" y="44.15"/><text x="44" y="47.8">id</text>
<use href="#k" class="kp" x="13" y="73.45"/><text x="44" y="77.1">revision_id</text>
<text x="44" y="106.4">package_id</text><text x="44" y="135.7">continuity_id</text><text x="44" y="165">revision_timestamp</text><text x="44" y="194.3">expired_timestamp</text><text x="44" y="223.6">current</text>
<text x="3" y="249.6">...</text><text x="4" y="274.6">&lt; 1</text>
</g>

<g id="package_revision" transform="translate(712,6423.3)">
<rect class="b" width="199" height="282.6"/><rect class="h" width="199" height="29.5"/>
<path class="l" d="M0,58.8H199M0,88.1H199M0,117.4H199M0,146.7H199M0,176H199M0,205.3H199M0,234.6H199M0,258.6H199M98,258.6V282.6M148,258.6V282.6"/>
<text class="n" x="2" y="19">package_revision</text><text class="r" x="193" y="19">[table]</text>
<use href="#k" class="kp" x="14" y="44.15"/><text x="35" y="47.8">id</text>
<text x="35" y="77.1">name</text>
<use href="#k" class="kp" x="14" y="102.75"/><text x="35" y="106.4">revision_id</text>
<text x="35" y="135.7">continuity_id</text><text x="35" y="165">revision_timestamp</text><text x="35" y="194.3">expired_timestamp</text><text x="35" y="223.6">current</text>
<text x="3" y="249.6">...</text><text x="4" y="274.6">&lt; 1</text>
</g>

<g id="group_revision" transform="translate(719,6734.7)">
<rect class="b" width="184" height="224"/><rect class="h" width="184" height="29.5"/>
<path class="l" d="M0,58.8H184M0,88.1H184M0,117.4H184M0,146.7H184M0,176H184M0,200H184M91,200V224M137,200V224"/>
<text class="n" x="2" y="19">group_revision</text><text class="r" x="178" y="19">[table]</text>
<use href="#k" class="kp" x="13" y="44.15"/><text x="26" y="47.8">id</text>
<use href="#k" class="kp" x="13" y="73.45"/><text x="26" y="77.1">revision_id</text>
<text x="26" y="106.4">revision_timestamp</text><text x="26" y="135.7">expired_timestamp</text><text x="26" y="165">current</text>
<text x="3" y="191">...</text><text x="4" y="216">&lt; 1</text>
</g>

<g id="system_info_revision" transform="translate(697,6986.1)">
<rect class="b" width="228" height="165.4"/><rect class="h" width="228" height="29.5"/>
<path class="l" d="M0,58.8H228M0,88.1H228M0,117.4H228M0,141.4H228M113,141.4V165.4M170,141.4V165.4"/>
<text class="n" x="2" y="19">system_info_revision</text><text class="r" x="222" y="19">[table]</text>
<use href="#k" class="kp" x="14" y="44.15"/><text x="44" y="47.8">id</text>
<use href="#k" class="kp" x="14" y="73.45"/><text x="44" y="77.1">revision_id</text>
<use href="#k" class="kf" x="14" y="102.75"/><text x="44" y="106.4">continuity_id</text>
<text x="3" y="132.4">...</text><text x="4" y="157.4">&lt; 2</text>
</g>

<g id="system_info" transform="translate(343,7045.2)">
<rect class="b" width="157" height="136.1"/><rect class="h" width="157" height="29.5"/>
<path class="l" d="M0,58.8H157M0,88.1H157M0,112.1H157M61,112.1V136.1M101,112.1V136.1"/>
<text class="n" x="2" y="19">system_info</text><text class="r" x="151" y="19">[table]</text>
<use href="#k" class="kp" x="14" y="44.15"/><text x="44" y="47.8">id</text>
<text x="44" y="77.1">key</text>
<text x="3" y="103.1">...</text><text class="r" x="153" y="128.1">1 &gt;</text>
</g>

<text x="16" y="7221">Generated by SchemaSpy</text>
</svg>
